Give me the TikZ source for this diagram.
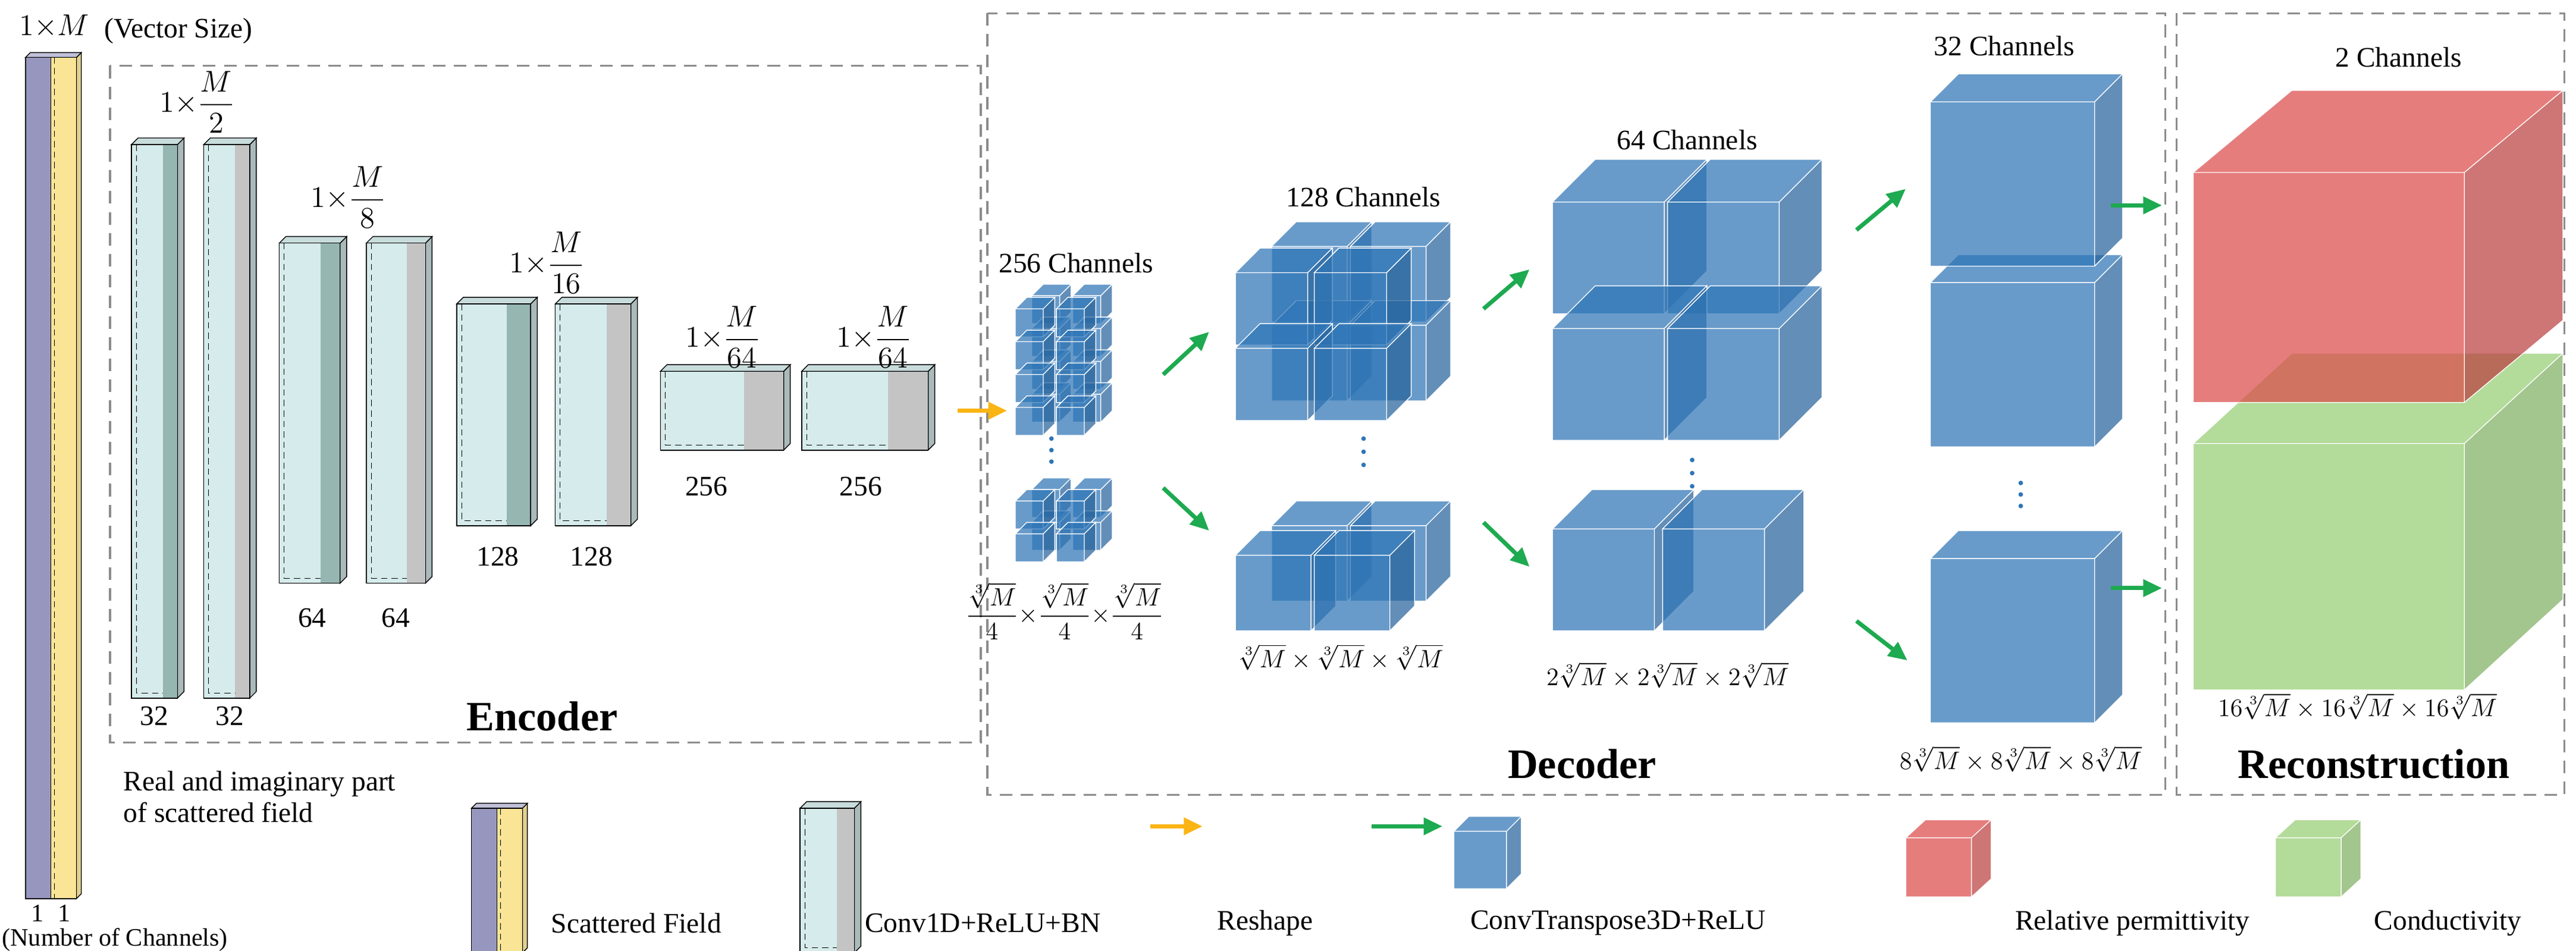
\documentclass[tikz,border=0pt]{standalone}
\usepackage{amsmath}
\usepackage{fontspec}
\setmainfont{Liberation Serif}
\usetikzlibrary{arrows.meta}
\definecolor{cyanf}{RGB}{214,236,236}
\definecolor{tealstrip}{RGB}{150,182,178}
\definecolor{greystrip}{RGB}{196,196,196}
\definecolor{sidegrey}{RGB}{170,185,185}
\definecolor{purp}{RGB}{150,150,190}
\definecolor{yell}{RGB}{250,228,150}
\definecolor{cblue}{RGB}{46,117,182}
\definecolor{cred}{RGB}{220,75,75}
\definecolor{cgreen}{RGB}{150,205,115}
\definecolor{aorange}{RGB}{250,180,20}
\definecolor{agreen}{RGB}{30,170,80}
\tikzset{
  txt/.style={font=\fontsize{13.5}{15}\selectfont, inner sep=1pt, align=center},
  mth/.style={font=\fontsize{12}{14}\selectfont, inner sep=1pt},
  ttl/.style={font=\fontsize{20}{23}\selectfont\bfseries, inner sep=1pt},
  region/.style={draw=gray!90, dashed, dash pattern=on 6pt off 4pt, line width=0.9pt},
  garrow/.style={agreen, line width=2pt, -{Triangle[length=9pt,width=8pt]}},
  yarrow/.style={aorange, line width=2pt, -{Triangle[length=9pt,width=8pt]}},
}
% bar: x, y(top), width, height, strip colour
\newcommand\encbar[5]{%
  \draw[fill=sidegrey] (#1+#3,#2)--++(4,-4)--++(0,#4)--++(-4,4)--cycle;
  \draw[fill=cyanf!85!gray] (#1,#2)--++(4,-4)--++(#3,0)--++(-4,4)--cycle;
  \fill[cyanf] (#1,#2) rectangle ++(#3,#4);
  \fill[#5] (#1+0.68*#3,#2) rectangle ++(0.32*#3,#4);
  \draw[densely dashed, line width=0.3pt] (#1+3,#2)--++(0,#4-3)--++(0.68*#3-3,0);
  \draw (#1,#2) rectangle ++(#3,#4);
}
% two-colour input bar: x, y, width(each), height
\newcommand\fieldbar[4]{%
  \draw[fill=yell!80!gray] (#1+2*#3,#2)--++(3,-3)--++(0,#4)--++(-3,3)--cycle;
  \draw[fill=purp!60] (#1,#2)--++(3,-3)--++(2*#3,0)--++(-3,3)--cycle;
  \draw[fill=purp] (#1,#2) rectangle ++(#3,#4);
  \draw[fill=yell] (#1+#3,#2) rectangle ++(#3,#4);
  \draw[densely dashed, line width=0.3pt] (#1+#3+2,#2)--++(0,#4);
}
% box: x, y(front top-left), w, h, dx, dy, colour
\newcommand\boxat[7]{%
  \fill[#7, fill opacity=.72] (#1,#2)--++(#5,#6)--++(#3,0)--++(-#5,-#6)--cycle;
  \fill[#7!85!black, fill opacity=.72] (#1+#3,#2)--++(#5,#6)--++(0,#4)--++(-#5,-#6)--cycle;
  \fill[#7, fill opacity=.72] (#1,#2) rectangle ++(#3,#4);
  \draw[white, line width=0.4pt] (#1,#2)--++(#5,#6)--++(#3,0)--++(-#5,-#6)--cycle
     (#1+#3,#2)--++(#5,#6)--++(0,#4)--++(-#5,-#6) (#1,#2) rectangle ++(#3,#4);
}
\newcommand\cubeat[4]{\boxat{#1}{#2}{#3}{#3}{#4}{-#4}{cblue}}
\begin{document}
\begin{tikzpicture}[x=0.02762cm, y=-0.02762cm]
\useasboundingbox (0,0) rectangle (1568,578.6);

% regions
\draw[region] (67,40) rectangle (597,452);
\draw[region] (601,8) rectangle (1318,484);
\draw[region] (1325,8) rectangle (1561,484);
\node[ttl] (enc) at (330,436) {Encoder};
\node[ttl] (dec) at (963,465) {Decoder};
\node[ttl] (rec) at (1445,465) {Reconstruction};

% input field
\fieldbar{15.5}{35}{15.5}{512}
\node[txt] (vs) at (33,16) {$1{\times}M$};
\node[txt, anchor=west] (vsz) at (62,19) {(Vector Size)};
\node[mth] (c1) at (23,556) {1};
\node[mth] (c2) at (39,556) {1};
\node[mth, anchor=west, inner sep=0pt] (nc) at (1,572) {(Number of Channels)};
\node[txt, align=left] (ri) at (158,485) {Real and imaginary part\\of scattered field};

% encoder bars
\encbar{80}{88}{28}{337}{tealstrip}
\encbar{124}{88}{28}{337}{greystrip}
\encbar{170}{148}{37}{207}{tealstrip}
\encbar{223}{148}{36}{207}{greystrip}
\encbar{278}{185}{45}{135}{tealstrip}
\encbar{338}{185}{46}{135}{greystrip}
\encbar{402}{226}{75}{48}{greystrip}
\encbar{488}{226}{77}{48}{greystrip}
\node[txt] (l2) at (120,62) {$1{\times}\dfrac{M}{2}$};
\node[txt] (l8) at (212,120) {$1{\times}\dfrac{M}{8}$};
\node[txt] (l16) at (333,160) {$1{\times}\dfrac{M}{16}$};
\node[txt] (l64a) at (440,205) {$1{\times}\dfrac{M}{64}$};
\node[txt] (l64b) at (532,205) {$1{\times}\dfrac{M}{64}$};
\node[txt] (n1) at (94,436) {32};
\node[txt] (n2) at (140,436) {32};
\node[txt] (n3) at (190,376) {64};
\node[txt] (n4) at (241,376) {64};
\node[txt] (n5) at (303,339) {128};
\node[txt] (n6) at (360,339) {128};
\node[txt] (n7) at (430,296) {256};
\node[txt] (n8) at (524,296) {256};

% 256 channels
\node[txt] (h256) at (655,160) {256 Channels};
\foreach \r in {180,200,220,240} \foreach \c in {628,653} {\cubeat{\c}{\r}{17}{7}}
\foreach \r in {188,208,228,248} \foreach \c in {618,643} {\cubeat{\c}{\r}{17}{7}}
\foreach \r in {298,318} \foreach \c in {628,653} {\cubeat{\c}{\r}{17}{7}}
\foreach \r in {305,325} \foreach \c in {618,643} {\cubeat{\c}{\r}{17}{7}}
\foreach \y in {267,274,281} \fill[cblue] (640,\y) circle (1.4);
\node[mth] (s256) at (648,372) {$\dfrac{\sqrt[3]{M}}{4}{\times}\dfrac{\sqrt[3]{M}}{4}{\times}\dfrac{\sqrt[3]{M}}{4}$};

% 128 channels
\node[txt] (h128) at (830,120) {128 Channels};
\foreach \r in {150,198} \foreach \c in {774,822} {\cubeat{\c}{\r}{46}{15}}
\foreach \r in {166,212} \foreach \c in {752,800} {\cubeat{\c}{\r}{44}{15}}
\foreach \c in {774,822} {\cubeat{\c}{320}{46}{15}}
\foreach \c in {752,800} {\cubeat{\c}{338}{46}{15}}
\foreach \y in {267,275,283} \fill[cblue] (830,\y) circle (1.4);
\node[mth] (s128) at (816,400) {$\sqrt[3]{M}\times\sqrt[3]{M}\times\sqrt[3]{M}$};

% 64 channels
\node[txt] (h64) at (1027,85) {64 Channels};
\foreach \r in {123,200} \foreach \c in {945,1015} {\cubeat{\c}{\r}{68}{26}}
\foreach \c in {945,1012} {\cubeat{\c}{322}{62}{24}}
\foreach \y in {280,288,296} \fill[cblue] (1030,\y) circle (1.4);
\node[mth] (s64) at (1015,411) {$2\sqrt[3]{M}\times2\sqrt[3]{M}\times2\sqrt[3]{M}$};

% 32 channels
\node[txt] (h32) at (1220,28) {32 Channels};
\cubeat{1175}{172}{100}{17}
\cubeat{1175}{62}{100}{17}
\cubeat{1175}{340}{100}{17}
\foreach \y in {294,301,308} \fill[cblue] (1230,\y) circle (1.4);
\node[mth] (s32) at (1230,462) {$8\sqrt[3]{M}\times8\sqrt[3]{M}\times8\sqrt[3]{M}$};

% reconstruction
\node[txt] (h2) at (1460,35) {2 Channels};
\boxat{1335}{270}{165}{150}{60}{-55}{cgreen}
\boxat{1335}{105}{165}{140}{60}{-50}{cred}
\node[mth] (s2) at (1435,430) {$16\sqrt[3]{M}\times16\sqrt[3]{M}\times16\sqrt[3]{M}$};

% arrows
\coordinate (ya1) at (583,250); \coordinate (ya2) at (613,250);
\draw[yarrow] (ya1) -- (ya2);
\coordinate (g1a) at (708,228); \coordinate (g1b) at (736,202);
\coordinate (g2a) at (708,297); \coordinate (g2b) at (736,323);
\coordinate (g3a) at (903,188); \coordinate (g3b) at (931,164);
\coordinate (g4a) at (903,318); \coordinate (g4b) at (931,345);
\coordinate (g5a) at (1130,140); \coordinate (g5b) at (1160,115);
\coordinate (g6a) at (1130,378); \coordinate (g6b) at (1161,402);
\coordinate (g7a) at (1285,125); \coordinate (g7b) at (1316,125);
\coordinate (g8a) at (1285,358); \coordinate (g8b) at (1316,358);
\foreach \a in {1,...,8} \draw[garrow] (g\a a) -- (g\a b);

% legend
\fieldbar{287}{492}{15.5}{88}
\node[txt, anchor=west] (lsf) at (334,562) {Scattered Field};
\encbar{487}{492}{33}{88}{greystrip}
\node[txt, anchor=west] (lcv) at (525,562) {Conv1D+ReLU+BN};
\coordinate (ly1) at (700,503); \coordinate (ly2) at (732,503);
\draw[yarrow] (ly1) -- (ly2);
\node[txt] (lrs) at (770,562) {Reshape};
\coordinate (lg1) at (835,503); \coordinate (lg2) at (878,503);
\draw[garrow] (lg1) -- (lg2);
\boxat{885}{506}{32}{35}{9}{-9}{cblue}
\node[txt] (lct) at (985,562) {ConvTranspose3D+ReLU};
\boxat{1160}{510}{40}{36}{12}{-11}{cred}
\node[txt] (lrp) at (1298,562) {Relative permittivity};
\boxat{1385}{510}{40}{36}{12}{-11}{cgreen}
\node[txt] (lcd) at (1490,562) {Conductivity};
\end{tikzpicture}
\end{document}
